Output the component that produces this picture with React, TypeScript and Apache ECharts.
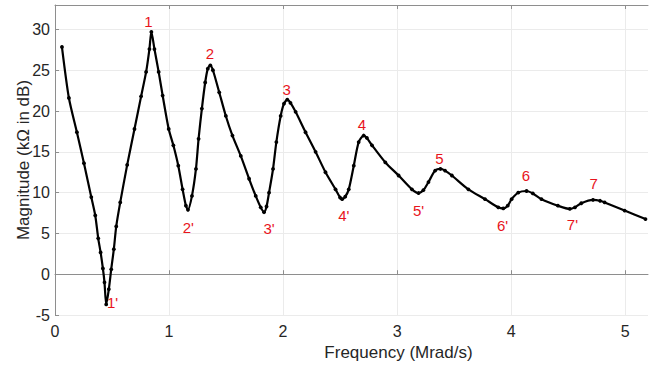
import React, { useEffect, useRef } from "react";
import * as echarts from "echarts";

const freq = [
  0.061, 0.122, 0.192, 0.254, 0.318, 0.353, 0.379, 0.4, 0.42, 0.434, 0.449, 0.472, 0.493, 0.516,
  0.537, 0.572, 0.633, 0.697, 0.755, 0.799, 0.828, 0.845, 0.872, 0.909, 0.944, 0.997, 1.038, 1.081,
  1.119, 1.148, 1.166, 1.201, 1.236, 1.259, 1.288, 1.317, 1.34, 1.362, 1.385, 1.44, 1.498, 1.556,
  1.629, 1.702, 1.76, 1.804, 1.833, 1.855, 1.877, 1.912, 1.941, 1.979, 2.008, 2.037, 2.065, 2.11,
  2.197, 2.285, 2.372, 2.46, 2.5, 2.518, 2.545, 2.576, 2.62, 2.663, 2.707, 2.735, 2.78, 2.897, 3.013,
  3.13, 3.188, 3.23, 3.275, 3.334, 3.38, 3.42, 3.48, 3.625, 3.771, 3.887, 3.931, 3.97, 4.004, 4.062,
  4.135, 4.19, 4.266, 4.41, 4.514, 4.56, 4.615, 4.718, 4.78, 4.82, 4.995, 5.178,
];
const magnitude = [
  27.85, 21.6, 17.4, 13.6, 9.46, 7.2, 4.4, 2.67, 0.7, -1.0, -3.7, -1.84, 0.6, 3.07,
  5.86, 8.8, 13.4, 17.8, 21.8, 24.8, 27.6, 29.7, 27.6, 24.8, 21.9, 17.8, 15.8, 13.3,
  10.4, 8.4, 7.9, 9.6, 12.9, 16.6, 20.3, 23.5, 25.2, 25.6, 25.0, 22.3, 19.4, 17.0,
  14.5, 11.7, 9.6, 8.2, 7.6, 8.3, 10.0, 12.9, 16.2, 19.4, 20.9, 21.4, 21.0, 19.9,
  17.4, 15.0, 12.5, 10.4, 9.4, 9.2, 9.5, 10.4, 13.3, 16.2, 17.0, 16.7, 15.8, 13.7, 12.1,
  10.4, 9.95, 10.3, 11.3, 12.7, 12.9, 12.7, 12.1, 10.4, 9.2, 8.2, 8.07, 8.4, 9.2, 10.0,
  10.2, 9.9, 9.2, 8.4, 8.0, 8.2, 8.7, 9.1, 9.0, 8.8, 7.8, 6.76,
];

const peakNames = ["1", "1'", "2", "2'", "3", "3'", "4", "4'", "5", "5'", "6", "6'", "7", "7'"];
const peakLabelX = [0.82, 0.505, 1.358, 1.169, 2.031, 1.877, 2.692, 2.532, 3.371, 3.188, 4.129, 3.925, 4.724, 4.537];
const peakLabelY = [30.96, -3.44, 27.0, 5.77, 22.7, 5.65, 18.4, 7.25, 14.2, 7.78, 12.08, 5.93, 11.06, 6.14];

const xTicks = [0, 1, 2, 3, 4, 5];
const yTicks = [-5, 0, 5, 10, 15, 20, 25, 30];

const FONT = "'Liberation Sans', Arial, Helvetica, sans-serif";
const AXIS_GRAY = "#8e8e8e";
const TEXT = "#262626";
const RED = "#e8141c";

export default function App() {
  const ref = useRef<HTMLDivElement>(null);
  useEffect(() => {
    if (!ref.current) return;
    const chart = echarts.init(ref.current, undefined, { renderer: "svg" });
    const curve = freq.map((f, i) => [f, magnitude[i]]);
    const labels = peakNames.map((n, i) => ({ name: n, value: [peakLabelX[i], peakLabelY[i]] }));
    chart.setOption({
      animation: false,
      backgroundColor: "#ffffff",
      grid: { left: 55, right: 11, top: 5, bottom: 52, containLabel: false, outerBoundsMode: "none" },
      xAxis: [
        {
          type: "value",
          min: 0,
          max: 5.2,
          interval: 1,
          name: "Frequency (Mrad/s)",
          nameLocation: "middle",
          nameGap: 29,
          nameMoveOverlap: false,
          nameTextStyle: { color: TEXT, fontSize: 17, fontFamily: FONT, padding: [0, 0, 0, 94] },
          axisLine: { show: true, lineStyle: { color: AXIS_GRAY, width: 1 } },
          axisTick: { show: true, inside: true, length: 4, customValues: xTicks, lineStyle: { color: AXIS_GRAY } },
          axisLabel: { customValues: xTicks, color: TEXT, fontSize: 16, fontFamily: FONT, margin: 8 },
          splitLine: { show: true, lineStyle: { color: "#ebebeb", width: 1 } },
        },
        {
          type: "value",
          position: "top",
          min: 0,
          max: 5.2,
          interval: 1,
          axisLine: { show: true, lineStyle: { color: AXIS_GRAY, width: 1 } },
          axisTick: { show: true, inside: true, length: 4, customValues: xTicks, lineStyle: { color: AXIS_GRAY } },
          axisLabel: { show: false },
          splitLine: { show: false },
        },
      ],
      yAxis: {
        type: "value",
        min: -5,
        max: 33,
        interval: 5,
        name: "Magnitude (kΩ in dB)",
        nameLocation: "middle",
        nameGap: 23,
        nameMoveOverlap: false,
        nameTextStyle: { color: TEXT, fontSize: 17, fontFamily: FONT },
        axisLine: { show: true, lineStyle: { color: AXIS_GRAY, width: 1 } },
        axisTick: { show: true, inside: true, length: 4, customValues: yTicks, lineStyle: { color: AXIS_GRAY } },
        axisLabel: { customValues: yTicks, color: TEXT, fontSize: 16, fontFamily: FONT, margin: 5 },
        splitLine: { show: true, lineStyle: { color: "#ebebeb", width: 1 } },
      },
      series: [
        {
          type: "line",
          data: curve,
          xAxisIndex: 0,
          smooth: 0.25,
          lineStyle: { color: "#000000", width: 2.2 },
          itemStyle: { color: "#000000" },
          symbol: "circle",
          symbolSize: 3.8,
          showSymbol: true,
          silent: true,
        },
        {
          type: "scatter",
          data: labels,
          xAxisIndex: 0,
          symbolSize: 0,
          silent: true,
          itemStyle: { opacity: 1 },
          label: {
            show: true,
            position: "inside",
            formatter: (p: any) => p.name,
            color: RED,
            opacity: 1,
            fontSize: 15,
            fontFamily: FONT,
          },
        },
      ],
    });
    return () => chart.dispose();
  }, []);
  return (
    <div
      ref={ref}
      style={{ position: "absolute", left: 0, top: 0, width: 659, height: 367 }}
    />
  );
}
